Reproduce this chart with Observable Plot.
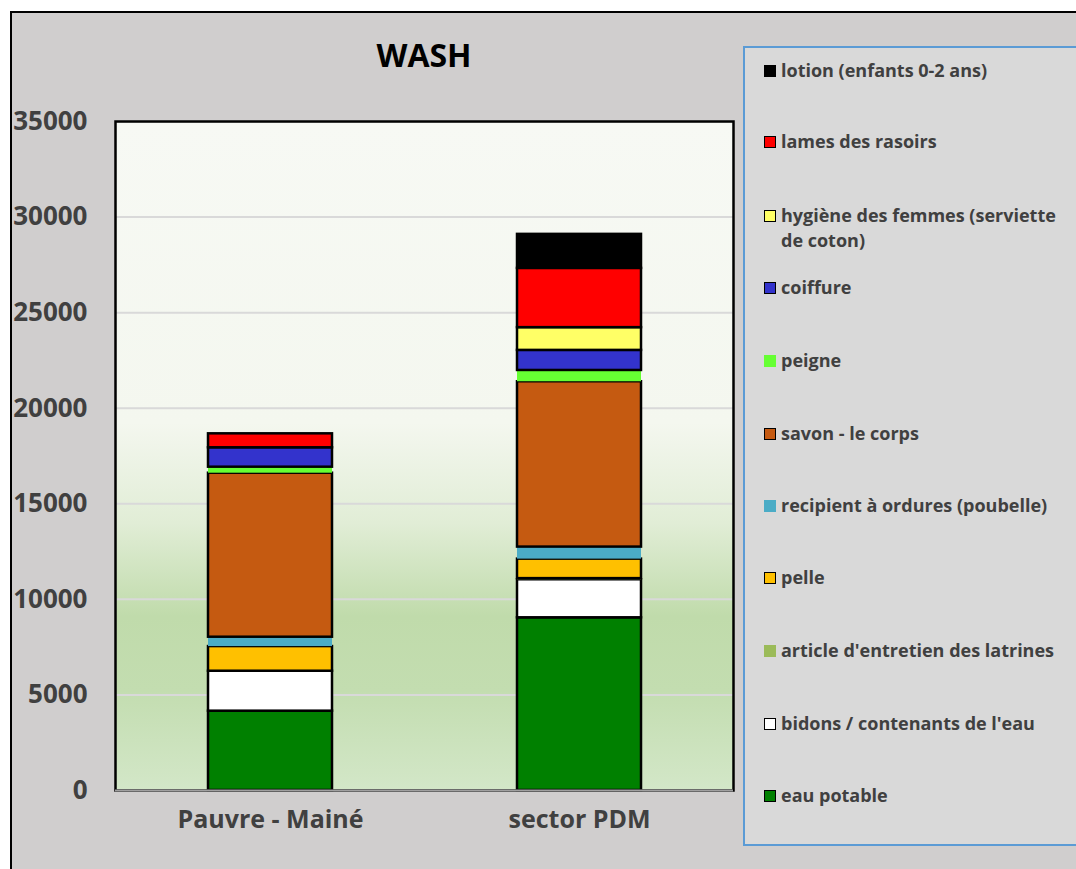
<!DOCTYPE html>
<html>
<head>
<meta charset="utf-8">
<script src="https://cdn.jsdelivr.net/npm/d3@7"></script>
<script src="https://cdn.jsdelivr.net/npm/@observablehq/plot@0.6"></script>
<style>
  body { margin: 0; background: #ffffff; font-family: "Open Sans", sans-serif; }
  #wrap { position: relative; width: 1076px; height: 869px; overflow: hidden; }
  #bgframe { position: absolute; left: 10px; top: 11px; width: 1066px; height: 858px; background: #d0cece; border-left: 2px solid #000; border-top: 2px solid #000; box-sizing: border-box; }
  #title { position: absolute; left: 115px; width: 618px; top: 33px; text-align: center; font: bold 32px "Open Sans", sans-serif; color: #000; }
  #chart { position: absolute; left: 0; top: 0; }
  #legend { position: absolute; left: 743px; top: 46px; width: 340px; height: 800px; background: #d9d9d9; border: 2.5px solid #5b9bd5; box-sizing: border-box; }
  .item { position: absolute; left: 19px; display: flex; align-items: flex-start; font: bold 18px "Open Sans", sans-serif; color: #404040; line-height: 25px; width: 300px; }
  .sw { width: 12px; height: 12px; margin-top: 7px; margin-right: 5px; flex: none; box-sizing: border-box; }
</style>
</head>
<body>
<div id="wrap">
  <div id="bgframe"></div>
  <div id="title">WASH</div>
  <div id="chart"></div>
  <div id="legend"></div>
</div>
<script>
const groups = ["Pauvre - Mainé", "sector PDM"];
const series = [
  "eau potable",
  "bidons / contenants de l'eau",
  "article d'entretien des latrines",
  "pelle",
  "recipient à ordures (poubelle)",
  "savon  - le corps",
  "peigne",
  "coiffure",
  "hygiène des femmes (serviette de coton)",
  "lames des rasoirs",
  "lotion (enfants 0-2 ans)"
];
const colors = ["#008000", "#ffffff", "#9bbb59", "#ffc000", "#4bacc6", "#c55a11", "#66ff33", "#3333cc", "#ffff66", "#ff0000", "#000000"];
const outlined = [true, true, false, true, false, true, false, true, true, true, true];
const valuesPauvre = [4150, 2090, 0, 1290, 490, 8580, 315, 1015, 0, 730, 0];
const valuesPDM = [9035, 1990, 60, 1020, 630, 8650, 590, 1050, 1190, 3100, 1780];
const yTicks = [0, 5000, 10000, 15000, 20000, 25000, 30000, 35000];

const rows = [];
series.forEach((s, i) => {
  rows.push({group: groups[0], series: s, value: valuesPauvre[i], idx: i});
  rows.push({group: groups[1], series: s, value: valuesPDM[i], idx: i});
});

const chart = Plot.plot({
  width: 740,
  height: 869,
  marginLeft: 115,
  marginRight: 7,
  marginTop: 121,
  marginBottom: 79,
  style: {background: "transparent", fontFamily: "Open Sans, sans-serif", overflow: "visible"},
  x: {domain: groups, paddingInner: 0.6, paddingOuter: 0.3, label: null},
  y: {domain: [0, 35000], label: null},
  color: {domain: series, range: colors},
  marks: [
    Plot.frame({fill: "url(#plotbg)", stroke: "none"}),
    Plot.gridY(yTicks, {stroke: "#d9d9d9", strokeOpacity: 1, strokeWidth: 2}),
    Plot.barY(rows, Plot.stackY({
      x: "group", y: "value", z: "series", order: series,
      fill: "series", stroke: d => outlined[d.idx] ? "#000" : "none", strokeWidth: 2.5
    })),
    Plot.frame({stroke: "#000", strokeWidth: 2.5}),
    Plot.ruleY([0], {stroke: "#a0a0a0", strokeWidth: 2}),
    Plot.axisY(yTicks, {tickSize: 0, tickPadding: 28, fontSize: 26, fontWeight: "bold", fill: "#404040", tickFormat: d => String(d)}),
    Plot.axisX({tickSize: 0, tickPadding: 20, fontSize: 25, fontWeight: "bold", fill: "#404040"})
  ]
});

// gradient definition for the plot background
const svgns = "http://www.w3.org/2000/svg";
const defs = document.createElementNS(svgns, "defs");
const grad = document.createElementNS(svgns, "linearGradient");
grad.setAttribute("id", "plotbg");
grad.setAttribute("x1", "0"); grad.setAttribute("y1", "0");
grad.setAttribute("x2", "0"); grad.setAttribute("y2", "1");
[["0%", "#f7f9f4"], ["45%", "#f4f7ef"], ["60%", "#e1edd6"], ["74%", "#c0dbab"], ["85%", "#c3ddb0"], ["100%", "#d3e7c8"]].forEach(([o, c]) => {
  const st = document.createElementNS(svgns, "stop");
  st.setAttribute("offset", o);
  st.setAttribute("stop-color", c);
  grad.appendChild(st);
});
defs.appendChild(grad);
chart.insertBefore(defs, chart.firstChild);
document.getElementById("chart").appendChild(chart);

// legend (top to bottom in reverse stacking order)
const legendTops = [58, 129, 203, 275, 348, 421, 493, 565, 638, 711, 783];
const leg = document.getElementById("legend");
const order = series.map((s, i) => i).reverse();
order.forEach((i, k) => {
  const item = document.createElement("div");
  item.className = "item";
  item.style.top = (legendTops[k] - 46 - 2) + "px";
  const sw = document.createElement("div");
  sw.className = "sw";
  sw.style.background = colors[i];
  if (outlined[i]) sw.style.border = "1.5px solid #000";
  const tx = document.createElement("div");
  tx.textContent = series[i];
  item.appendChild(sw);
  item.appendChild(tx);
  leg.appendChild(item);
});
</script>
</body>
</html>
